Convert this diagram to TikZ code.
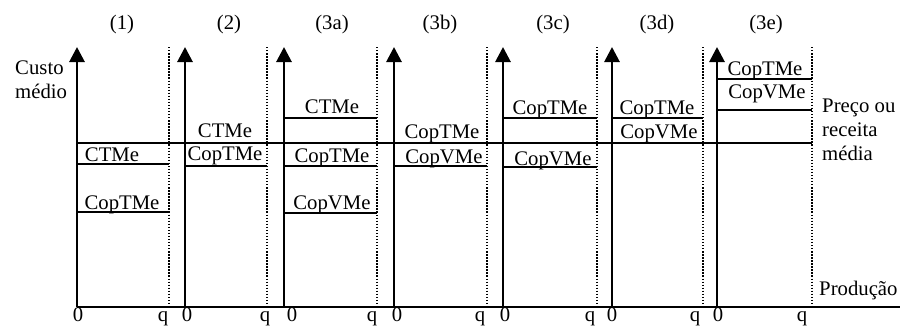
\documentclass[tikz,border=0pt]{standalone}
\usepackage{fontspec}
\setmainfont{Liberation Serif}
\usetikzlibrary{arrows.meta}
\begin{document}
\begin{tikzpicture}[x=0.03cm,y=-0.03cm,
  axis/.style={line width=2.4pt,-{Triangle[length=0.45cm,width=0.45cm]}},
  cost line/.style={line width=1.4pt},
  limit line/.style={line width=1.2pt,dash pattern=on 1.2pt off 1.4pt},
  txt/.style={font=\fontsize{17.7}{20.4}\selectfont,inner sep=0pt,anchor=base},
  side txt/.style={txt,anchor=base west,align=left}]
  \useasboundingbox (0,0) rectangle (900,327);

  % axes and limits
  \draw[line width=2.4pt] (77,307) -- (900,307);
  \foreach \ax in {77,185,284,394,503,612,717}
    \draw[axis] (\ax,307) -- (\ax,47);
  \foreach \lim in {169,267,377,487,597,703,812}
    \draw[limit line] (\lim,47) -- (\lim,307);

  % price line
  \draw[cost line] (77,143) -- (812,143);

  % cost levels
  \draw[cost line] (77,164) -- (169,164);
  \draw[cost line] (77,212) -- (169,212);
  \draw[cost line] (185,166) -- (267,166);
  \draw[cost line] (284,118) -- (377,118);
  \draw[cost line] (284,166) -- (377,166);
  \draw[cost line] (284,213) -- (377,213);
  \draw[cost line] (394,166) -- (487,166);
  \draw[cost line] (503,118) -- (597,118);
  \draw[cost line] (503,167) -- (597,167);
  \draw[cost line] (612,118) -- (703,118);
  \draw[cost line] (717,79) -- (812,79);
  \draw[cost line] (717,110) -- (812,110);

  % titles
  \node[txt] (t1) at (122,29) {(1)};
  \node[txt] (t2) at (229,29) {(2)};
  \node[txt] (t3a) at (332,29) {(3a)};
  \node[txt] (t3b) at (440,29) {(3b)};
  \node[txt] (t3c) at (553,29) {(3c)};
  \node[txt] (t3d) at (657,29) {(3d)};
  \node[txt] (t3e) at (766,29) {(3e)};

  % curve labels
  \node[txt] (ctme1) at (112,161) {CTMe};
  \node[txt] (coptme1) at (122,209) {CopTMe};
  \node[txt] (ctme2) at (225,137) {CTMe};
  \node[txt] (coptme2) at (225,160) {CopTMe};
  \node[txt] (ctme3a) at (332,113) {CTMe};
  \node[txt] (coptme3a) at (332,162) {CopTMe};
  \node[txt] (copvme3a) at (332,209) {CopVMe};
  \node[txt] (coptme3b) at (442,138) {CopTMe};
  \node[txt] (copvme3b) at (444,163) {CopVMe};
  \node[txt] (coptme3c) at (550,114) {CopTMe};
  \node[txt] (copvme3c) at (553,165) {CopVMe};
  \node[txt] (coptme3d) at (657,114) {CopTMe};
  \node[txt] (copvme3d) at (659,138) {CopVMe};
  \node[txt] (coptme3e) at (765,75) {CopTMe};
  \node[txt] (copvme3e) at (767,98) {CopVMe};

  % axis labels
  \node[side txt] (custo) at (15,98) {Custo\\médio};
  \node[side txt] (preco) at (822,160) {Preço ou\\receita\\média};
  \node[side txt] (prod) at (819,295) {Produção};

  % quantities
  \foreach \zx in {78,187,292,397,505,612,718}
    \node[txt] at (\zx,321) {0};
  \foreach \qx in {163,265,372,480,590,695,802}
    \node[txt] at (\qx,321) {q};
\end{tikzpicture}
\end{document}
